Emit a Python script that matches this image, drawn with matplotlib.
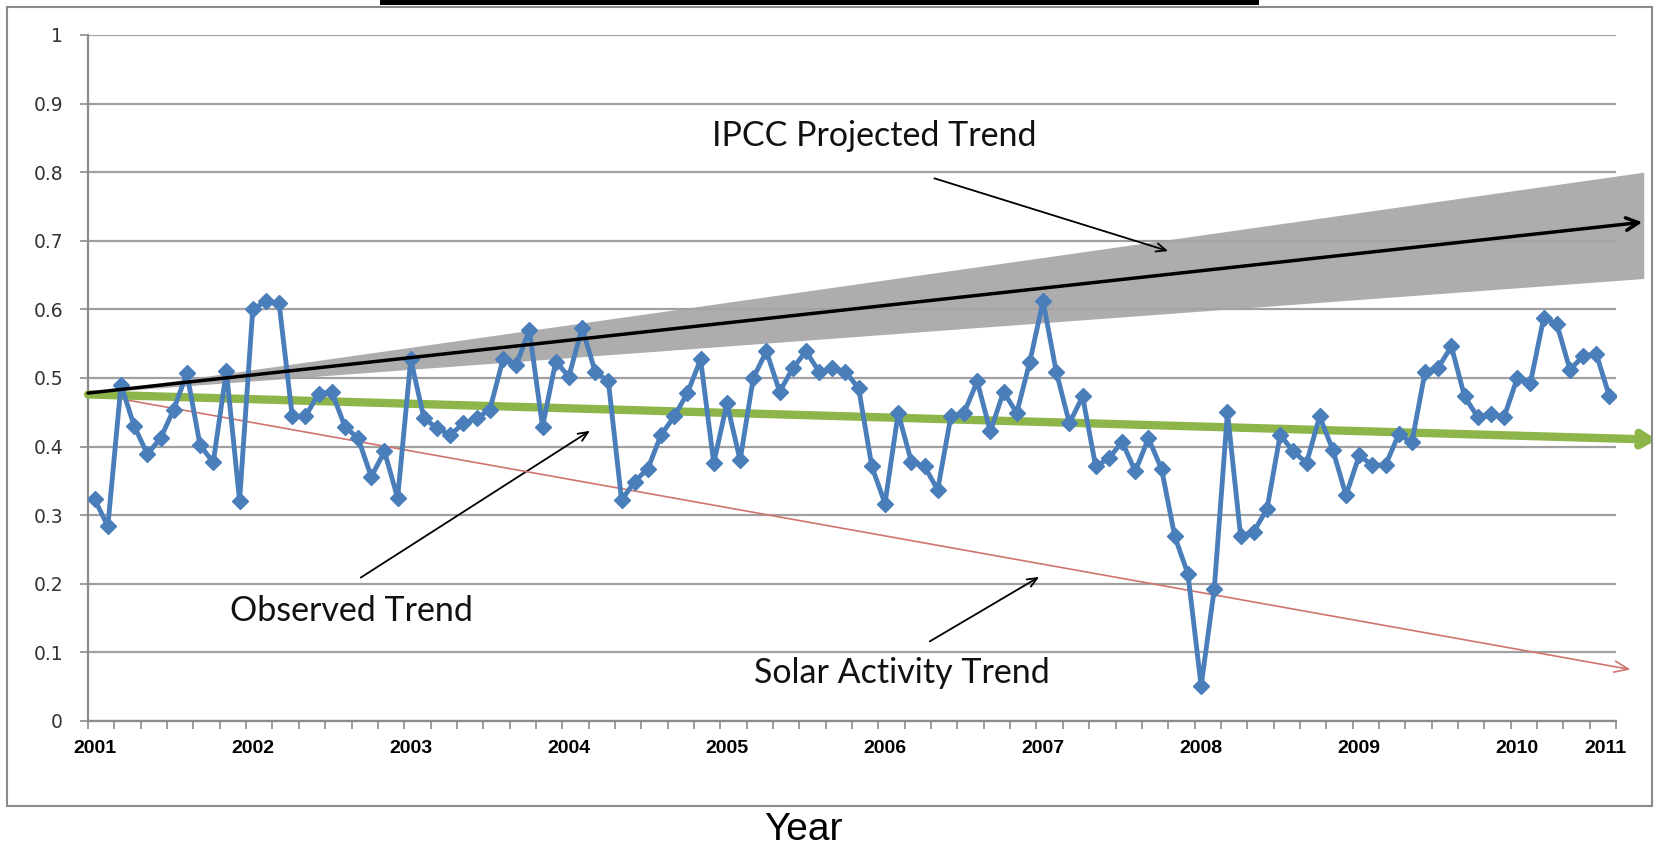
import numpy as np
import matplotlib.pyplot as plt
from matplotlib.patches import Rectangle

# monthly anomaly, Jan 2001 .. Aug 2010
anomaly = [0.323, 0.284, 0.490, 0.430, 0.389, 0.412, 0.454, 0.507, 0.402, 0.377, 0.510, 0.321,
           0.600, 0.612, 0.609, 0.444, 0.444, 0.477, 0.480, 0.429, 0.412, 0.356, 0.393, 0.325,
           0.527, 0.441, 0.427, 0.417, 0.434, 0.441, 0.454, 0.527, 0.519, 0.570, 0.429, 0.524,
           0.502, 0.573, 0.509, 0.495, 0.322, 0.349, 0.368, 0.417, 0.444, 0.478, 0.527, 0.376,
           0.463, 0.380, 0.500, 0.539, 0.480, 0.514, 0.539, 0.509, 0.514, 0.509, 0.485, 0.371,
           0.317, 0.449, 0.378, 0.371, 0.337, 0.444, 0.449, 0.495, 0.422, 0.480, 0.449, 0.524,
           0.612, 0.509, 0.434, 0.473, 0.371, 0.383, 0.407, 0.364, 0.412, 0.367, 0.269, 0.214,
           0.051, 0.193, 0.450, 0.269, 0.276, 0.309, 0.417, 0.393, 0.376, 0.444, 0.395, 0.329,
           0.387, 0.373, 0.373, 0.418, 0.406, 0.509, 0.515, 0.546, 0.473, 0.443, 0.448, 0.443,
           0.500, 0.493, 0.587, 0.579, 0.512, 0.532, 0.535, 0.473]
year_labels = ['2001', '2002', '2003', '2004', '2005', '2006', '2007', '2008', '2009', '2010', '2011']
year_pos = [0, 12, 24, 36, 48, 60, 72, 84, 96, 108, 114.7]

# hand drawn trend arrows: (x start, x end), (y start, y end)
ipcc_x, ipcc_y = [-0.5, 117.5], [0.478, 0.727]
band_x, band_top, band_bot = [-0.5, 117.6], [0.478, 0.800], [0.478, 0.645]
obs_x, obs_y = [-0.5, 118.6], [0.476, 0.410]
solar_x, solar_y = [-0.5, 116.6], [0.478, 0.075]

fig = plt.figure(figsize=(16.65, 8.47), dpi=100)
ax = fig.add_axes([0.0529, 0.1488, 0.9177, 0.8099])

x = np.arange(len(anomaly))
ax.plot(x, anomaly, color='#4a7ebb', lw=3.5, marker='D', ms=8.5, zorder=6)

# IPCC band + line
band = ax.fill_between(band_x, band_bot, band_top, color='#a4a4a4', alpha=0.9, lw=0, zorder=2)
band.set_clip_on(False)
ax.annotate('', xy=(ipcc_x[1], ipcc_y[1]), xytext=(ipcc_x[0], ipcc_y[0]), annotation_clip=False,
            arrowprops=dict(arrowstyle='->,head_length=0.9,head_width=0.45', color='black', lw=2.5,
                            shrinkA=0, shrinkB=0), zorder=7)
ax.annotate('', xy=(obs_x[1], obs_y[1]), xytext=(obs_x[0], obs_y[0]), annotation_clip=False,
            arrowprops=dict(arrowstyle='->,head_length=0.75,head_width=0.45', color='#8db54a', lw=6,
                            shrinkA=0, shrinkB=0), zorder=5)
ax.annotate('', xy=(solar_x[1], solar_y[1]), xytext=(solar_x[0], solar_y[0]), annotation_clip=False,
            arrowprops=dict(arrowstyle='->,head_length=1.0,head_width=0.4', color='#d0746f', lw=1.2,
                            shrinkA=0, shrinkB=0), zorder=4)

# text labels with pointers
tfont = dict(family=['Lato', 'DejaVu Sans'], fontsize=24.5, color='#111111')
ax.text(59.2, 0.853, 'IPCC Projected Trend', ha='center', va='center', **tfont)
ax.annotate('', xy=(81.5, 0.685), xytext=(63.75, 0.791),
            arrowprops=dict(arrowstyle='->,head_length=0.7,head_width=0.3', color='black', lw=1.3,
                            shrinkA=0, shrinkB=0))
ax.text(19.5, 0.161, 'Observed Trend', ha='center', va='center', **tfont)
ax.annotate('', xy=(37.6, 0.423), xytext=(20.2, 0.209),
            arrowprops=dict(arrowstyle='->,head_length=0.7,head_width=0.3', color='black', lw=1.3,
                            shrinkA=0, shrinkB=0))
ax.text(61.3, 0.070, 'Solar Activity Trend', ha='center', va='center', **tfont)
ax.annotate('', xy=(71.7, 0.210), xytext=(63.4, 0.116),
            arrowprops=dict(arrowstyle='->,head_length=0.7,head_width=0.3', color='black', lw=1.3,
                            shrinkA=0, shrinkB=0))

# axes
ax.set_xlim(-0.5, len(anomaly) - 0.5)
ax.set_ylim(0, 1)
yt = np.round(np.arange(0, 1.01, 0.1), 1)
ax.set_yticks(yt)
ax.set_yticklabels(['0'] + ['%.1f' % v for v in yt[1:-1]] + ['1'],
                   fontsize=13.5, color='#333333')
ax.yaxis.grid(True, color='#a0a0a0', lw=1.6)
ax.set_axisbelow(True)

ax.set_xticks(year_pos)
ax.set_xticklabels(year_labels, fontsize=14, fontweight='bold', family='Liberation Sans')
ax.set_xticks(np.arange(-0.5, len(anomaly), 2), minor=True)
ax.tick_params(axis='x', which='major', length=0, pad=14)
ax.tick_params(axis='x', which='minor', length=6, width=1.2, color='#8c8c8c')
ax.tick_params(axis='y', length=6, width=1.2, color='#8c8c8c', pad=12)

for s in ['top', 'right']:
    ax.spines[s].set_visible(False)
for s in ['left', 'bottom']:
    ax.spines[s].set_color('#8c8c8c')
    ax.spines[s].set_linewidth(1.6)

# chart frame, cut off title underline, axis title
W, H = 1665., 847.
fig.add_artist(Rectangle((7 / W, 1 - 806 / H), 1645 / W, 799 / H, transform=fig.transFigure,
                         fill=False, ec='#8a8a8a', lw=1.5))
fig.add_artist(Rectangle((380 / W, 1 - 5 / H), 879 / W, 5 / H, transform=fig.transFigure,
                         fc='black', ec='none'))
fig.text(0.4828, 0.0196, 'Year', ha='center', va='center', fontsize=28, family='Liberation Sans')

fig.savefig('out.png', dpi=100)
